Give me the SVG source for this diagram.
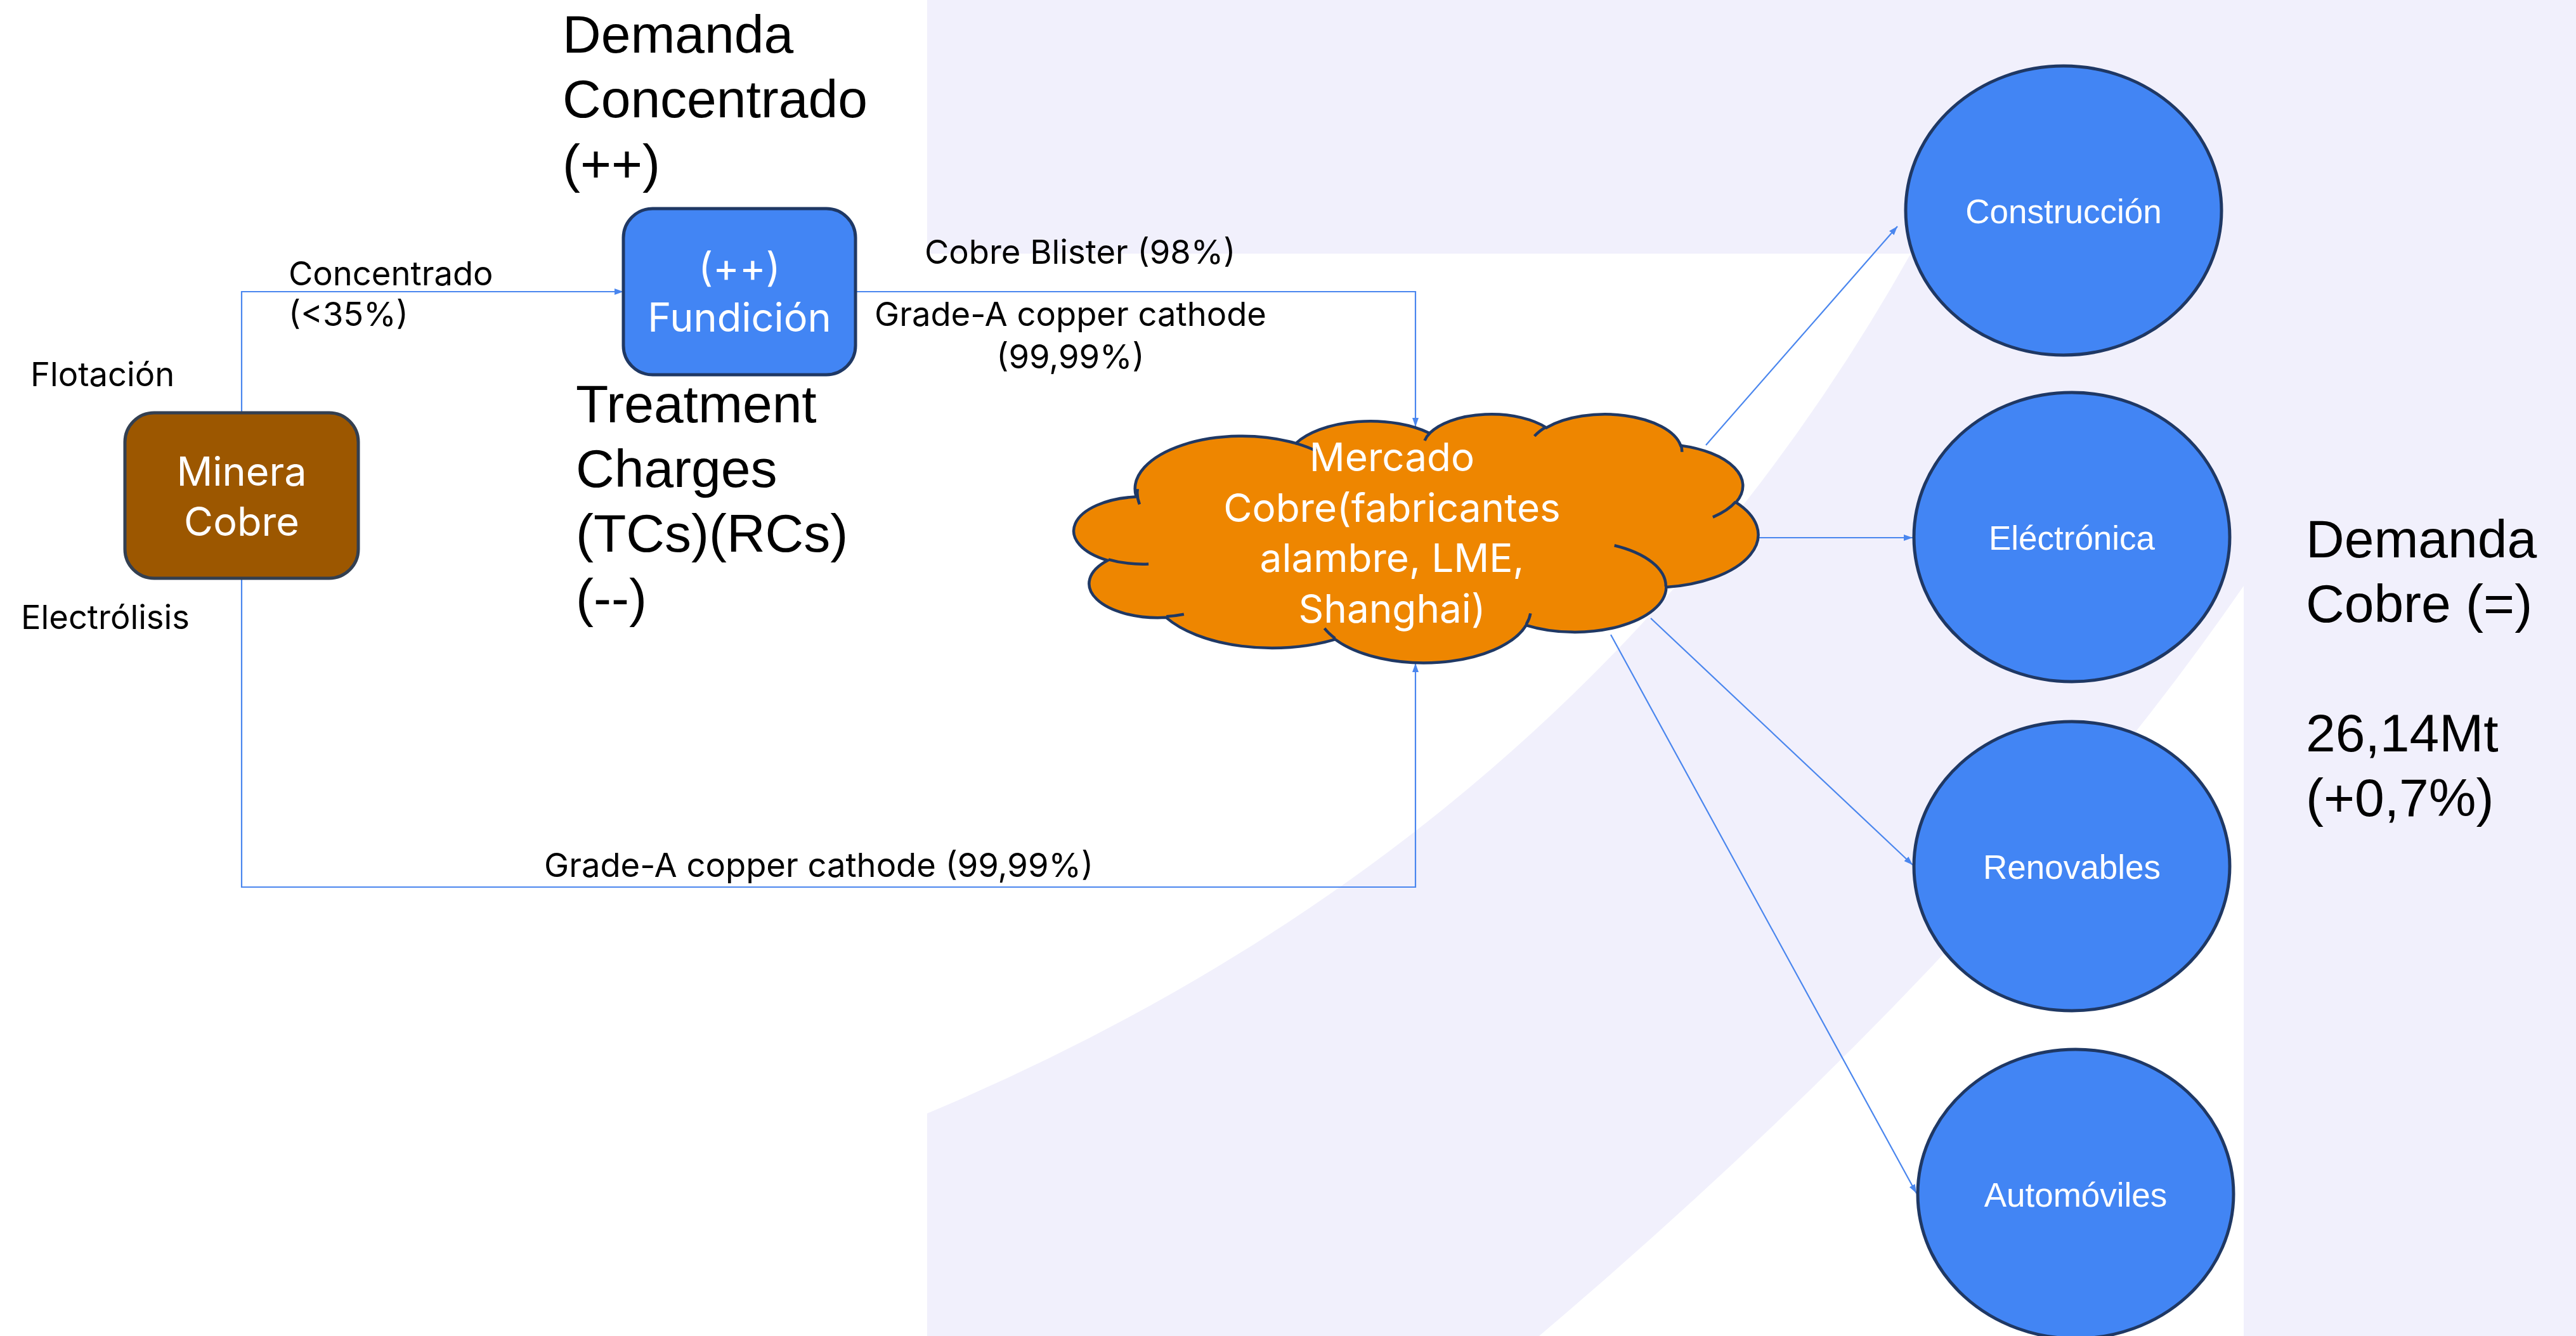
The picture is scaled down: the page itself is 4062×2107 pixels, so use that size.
<svg xmlns="http://www.w3.org/2000/svg" width="4062" height="2107" viewBox="0 0 4062 2107">
  <style>
    .lbl { font-family: Inter, "Liberation Sans", sans-serif; font-size: 52.5px; fill: #000; }
    .big { font-family: "Liberation Sans", Arial, sans-serif; font-size: 84px; fill: #000; }
    .node-txt { font-family: Inter, "Liberation Sans", sans-serif; font-size: 63px; fill: #fff; text-anchor: middle; }
    .cloud-txt { font-size: 62px; }
    .oval-txt { font-family: "Liberation Sans", Arial, sans-serif; font-size: 53px; fill: #fff; text-anchor: middle; }
    .oval { fill: #4285F4; stroke: #1F3864; stroke-width: 5; }
    .conn { fill: none; stroke: #4A86EE; stroke-width: 2.2; }
  </style>
  <defs>
    <marker id="arrow" viewBox="0 0 14 10" refX="14" refY="5" markerWidth="14" markerHeight="10" markerUnits="userSpaceOnUse" orient="auto">
      <path d="M0,0 L14,5 L0,10 z" fill="#4A86EE"/>
    </marker>
  </defs>

  <!-- background -->
  <rect x="0" y="0" width="4062" height="2107" fill="#ffffff"/>
  <g id="backdrop">
    <rect x="1462" y="0" width="2600" height="2107" fill="#F1F0FC"/>
    <path d="M1462,400 L3013,400 Q2495,1322 1462,1756 Z" fill="#ffffff"/>
    <path d="M3538,924 L3538,2107 L2427,2107 Q3140,1501 3538,924 Z" fill="#ffffff"/>
  </g>

  <!-- connectors -->
  <g id="connectors">
    <path class="conn" d="M381,650 V460 H983" marker-end="url(#arrow)"/>
    <path class="conn" d="M1350,460 H2232 V673" marker-end="url(#arrow)"/>
    <path class="conn" d="M381,912 V1399 H2232 V1046" marker-end="url(#arrow)"/>
    <path class="conn" d="M2690,702 L2992,357" marker-end="url(#arrow)"/>
    <path class="conn" d="M2772,848 L3016,848" marker-end="url(#arrow)"/>
    <path class="conn" d="M2603,975 L3016,1364" marker-end="url(#arrow)"/>
    <path class="conn" d="M2540,1001 L3022,1882" marker-end="url(#arrow)"/>
  </g>

  <!-- connector labels -->
  <g id="edge-labels">
    <text class="lbl" x="48" y="609">Flotación</text>
    <text class="lbl" x="33" y="992">Electrólisis</text>
    <text class="lbl" x="455" y="450">Concentrado</text>
    <text class="lbl" x="455" y="514">(&lt;35%)</text>
    <text class="lbl" x="1458" y="416">Cobre Blister (98%)</text>
    <text class="lbl" x="1688" y="514" text-anchor="middle">Grade-A copper cathode</text>
    <text class="lbl" x="1688" y="581" text-anchor="middle">(99,99%)</text>
    <text class="lbl" x="858" y="1383">Grade-A copper cathode (99,99%)</text>
  </g>

  <!-- mine -->
  <g id="node-minera">
    <rect x="197" y="651" width="368" height="261" rx="46" ry="46" fill="#9C5700" stroke="#333F50" stroke-width="5"/>
    <text class="node-txt" x="381" y="766">Minera</text>
    <text class="node-txt" x="381" y="845">Cobre</text>
  </g>

  <!-- smelter -->
  <g id="node-fundicion">
    <rect x="983" y="329" width="366" height="262" rx="46" ry="46" fill="#4285F4" stroke="#1F3864" stroke-width="5"/>
    <text class="node-txt" x="1166" y="444">(++)</text>
    <text class="node-txt" x="1166" y="523">Fundición</text>
  </g>

  <!-- copper market cloud -->
  <g id="node-mercado">
    <g transform="translate(1694,652) scale(0.0249537,0.00907407)">
      <path fill="#EE8600" stroke="#1F3864" stroke-width="4.5" vector-effect="non-scaling-stroke"
        d="M3900,14370 A6753,9190 0 0 1 14005,5202 A5333,7267 0 0 1 22456,3433 A4365,5945 0 0 1 29834,2482 A4857,6595 0 0 1 38319,5577 A5333,7273 0 0 1 41819,15460 A6775,9220 0 0 1 37405,30203 A5785,7867 0 0 1 28556,36813 A6752,9215 0 0 1 16481,39264 A7720,10543 0 0 1 5805,35469 A4360,5918 0 0 1 2113,25548 A4345,5945 0 0 1 3864,14504 Z"/>
      <path fill="none" stroke="#1F3864" stroke-width="4.5" vector-effect="non-scaling-stroke"
        d="M4694,26177 A4345,5945 0 0 1 2160,25380 M6928,34899 A4360,5918 0 0 1 5820,35281 M16478,39090 A6752,9215 0 0 1 15810,37349 M28827,34751 A6752,9215 0 0 1 28560,36660 M34129,22954 A5785,7867 0 0 1 37381,30090 M41798,15354 A5333,7273 0 0 1 40350,18030 M38324,5426 A4857,6595 0 0 1 38401,6690 M29078,3952 A4857,6595 0 0 1 29819,2341 M22141,4720 A4365,5945 0 0 1 22500,3330 M14000,5192 A6753,9190 0 0 1 15301,6541 M4127,15789 A6753,9190 0 0 1 4003,13141"/>
    </g>
    <text class="node-txt cloud-txt" x="2195" y="743">Mercado</text>
    <text class="node-txt cloud-txt" x="2195" y="823">Cobre(fabricantes</text>
    <text class="node-txt cloud-txt" x="2195" y="902">alambre, LME,</text>
    <text class="node-txt cloud-txt" x="2195" y="982">Shanghai)</text>
  </g>

  <!-- demand sectors -->
  <g id="node-construccion">
    <ellipse class="oval" cx="3254" cy="332" rx="249" ry="228"/>
    <text class="oval-txt" x="3254" y="352">Construcción</text>
  </g>
  <g id="node-electronica">
    <ellipse class="oval" cx="3267" cy="847" rx="249" ry="228"/>
    <text class="oval-txt" x="3267" y="867">Eléctrónica</text>
  </g>
  <g id="node-renovables">
    <ellipse class="oval" cx="3267" cy="1366" rx="249" ry="228"/>
    <text class="oval-txt" x="3267" y="1386">Renovables</text>
  </g>
  <g id="node-automoviles">
    <ellipse class="oval" cx="3273" cy="1883" rx="249" ry="228"/>
    <text class="oval-txt" x="3273" y="1903">Automóviles</text>
  </g>

  <!-- annotations -->
  <g id="note-demanda-concentrado">
    <text class="big" x="887" y="83">Demanda</text>
    <text class="big" x="887" y="185">Concentrado</text>
    <text class="big" x="887" y="287">(++)</text>
  </g>
  <g id="note-treatment-charges">
    <text class="big" x="908" y="666">Treatment</text>
    <text class="big" x="908" y="768">Charges</text>
    <text class="big" x="908" y="870">(TCs)(RCs)</text>
    <text class="big" x="908" y="972">(--)</text>
  </g>
  <g id="note-demanda-cobre">
    <text class="big" x="3636" y="879">Demanda</text>
    <text class="big" x="3636" y="981">Cobre (=)</text>
    <text class="big" x="3636" y="1185">26,14Mt</text>
    <text class="big" x="3636" y="1287">(+0,7%)</text>
  </g>
</svg>
